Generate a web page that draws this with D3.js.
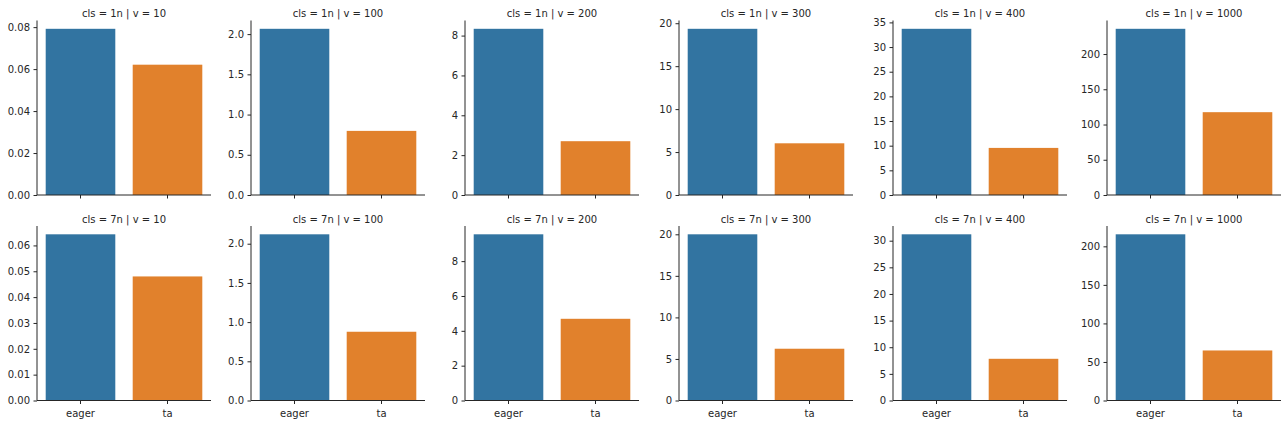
<!DOCTYPE html>
<html>
<head>
<meta charset="utf-8">
<script src="https://cdn.jsdelivr.net/npm/d3@7"></script>
<style>
  body { margin: 0; background: #fff; }
  text { font-family: "DejaVu Sans", sans-serif; fill: #262626; }
</style>
</head>
<body>
<div id="chart"></div>
<script>
// facet layout: rows are cls, columns are v
var clsValues = ["1n", "7n"];
var vValues = [10, 100, 200, 300, 400, 1000];
var methods = ["eager", "ta"];
var colors = ["#3274a1", "#e1812c"];

// time per (cls, v) : [eager, ta]
var eager1n = [0.0792, 2.066, 8.34, 19.35, 33.7, 235.8];
var ta1n    = [0.0621, 0.797, 2.70, 6.02, 9.55, 117.5];
var eager7n = [0.0643, 2.12, 9.54, 20.0, 31.2, 215.6];
var ta7n    = [0.0480, 0.877, 4.69, 6.23, 7.83, 64.9];

// y tick labels for each panel
var ticks1n = [
  ["0.00", "0.02", "0.04", "0.06", "0.08"],
  ["0.0", "0.5", "1.0", "1.5", "2.0"],
  ["0", "2", "4", "6", "8"],
  ["0", "5", "10", "15", "20"],
  ["0", "5", "10", "15", "20", "25", "30", "35"],
  ["0", "50", "100", "150", "200"]
];
var ticks7n = [
  ["0.00", "0.01", "0.02", "0.03", "0.04", "0.05", "0.06"],
  ["0.0", "0.5", "1.0", "1.5", "2.0"],
  ["0", "2", "4", "6", "8"],
  ["0", "5", "10", "15", "20"],
  ["0", "5", "10", "15", "20", "25", "30"],
  ["0", "50", "100", "150", "200"]
];

var rows = [
  {cls: clsValues[0], eager: eager1n, ta: ta1n, ticks: ticks1n},
  {cls: clsValues[1], eager: eager7n, ta: ta7n, ticks: ticks7n}
];

var W = 1288, H = 424;
var pw = 174, ph = 174.5;
var left0 = 37, colStep = 214;
var tops = [20.5, 226];

var svg = d3.select("#chart").append("svg")
  .attr("width", W).attr("height", H);

rows.forEach(function(row, r) {
  vValues.forEach(function(v, c) {
    var vals = [row.eager[c], row.ta[c]];
    var g = svg.append("g")
      .attr("transform", `translate(${left0 + c * colStep}, ${tops[r]})`);

    var x = d3.scaleBand().domain(methods).range([0, pw]).paddingInner(0.2).paddingOuter(0.1);
    var y = d3.scaleLinear().domain([0, d3.max(vals) * 1.05]).range([ph, 0]);

    g.selectAll("rect").data(methods).enter().append("rect")
      .attr("x", d => x(d))
      .attr("width", x.bandwidth())
      .attr("y", (d, i) => y(vals[i]))
      .attr("height", (d, i) => ph - y(vals[i]))
      .attr("fill", (d, i) => colors[i]);

    var yAxis = d3.axisLeft(y)
      .tickValues(row.ticks[c].map(Number))
      .tickFormat((d, i) => row.ticks[c][i])
      .tickSize(3.5).tickPadding(3.5);
    var ya = g.append("g").call(yAxis);

    var xAxis = d3.axisBottom(x).tickSize(3.5).tickPadding(5.5)
      .tickFormat(r === 1 ? null : "");
    var xa = g.append("g").attr("transform", `translate(0, ${ph})`).call(xAxis);

    [ya, xa].forEach(function(a) {
      a.select(".domain").attr("stroke", "#262626").attr("stroke-width", 1);
      a.selectAll(".tick line").attr("stroke", "#262626");
      a.selectAll("text").attr("font-size", 10).attr("fill", "#262626")
        .style("font-family", "DejaVu Sans, sans-serif");
    });
    // spine without end ticks
    ya.select(".domain").attr("d", `M0,0V${ph}`);
    xa.select(".domain").attr("d", `M0,0H${pw}`);

    g.append("text")
      .attr("x", pw / 2).attr("y", -3.5)
      .attr("text-anchor", "middle")
      .attr("font-size", 10)
      .text(`cls = ${row.cls} | v = ${v}`);
  });
});
</script>
</body>
</html>
